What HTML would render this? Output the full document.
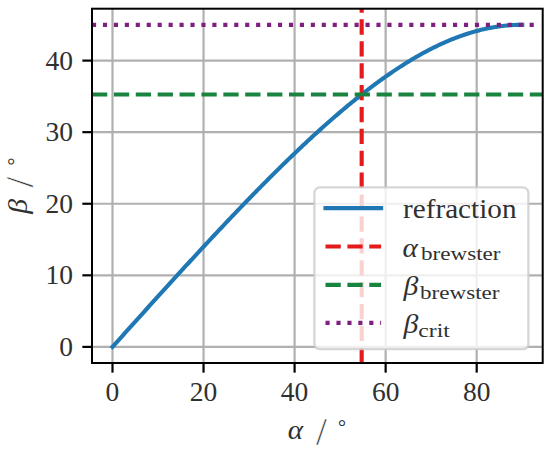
<!DOCTYPE html>
<html><head><meta charset="utf-8"><title>Refraction angle plot</title>
<style>html,body{margin:0;padding:0;background:#fff;width:550px;height:450px;overflow:hidden}svg{display:block}</style>
</head><body>
<svg width="550" height="450" viewBox="0 0 550 450">
<rect x="0" y="0" width="550" height="450" fill="#ffffff"/>
<g stroke="#b0b0b0" stroke-width="2.2" fill="none">
<line x1="112.49" y1="8.7" x2="112.49" y2="363"/>
<line x1="203.54" y1="8.7" x2="203.54" y2="363"/>
<line x1="294.59" y1="8.7" x2="294.59" y2="363"/>
<line x1="385.64" y1="8.7" x2="385.64" y2="363"/>
<line x1="476.69" y1="8.7" x2="476.69" y2="363"/>
<line x1="92" y1="346.9" x2="542.7" y2="346.9"/>
<line x1="92" y1="275.32" x2="542.7" y2="275.32"/>
<line x1="92" y1="203.75" x2="542.7" y2="203.75"/>
<line x1="92" y1="132.17" x2="542.7" y2="132.17"/>
<line x1="92" y1="60.6" x2="542.7" y2="60.6"/>
</g>
<defs><clipPath id="ax"><rect x="92.0" y="8.7" width="450.7" height="354.3"/></clipPath></defs>
<g clip-path="url(#ax)">
<polyline points="112.49,346.9 113.63,345.63 114.77,344.37 115.9,343.1 117.04,341.84 118.18,340.57 119.32,339.31 120.46,338.04 121.59,336.78 122.73,335.51 123.87,334.25 125.01,332.98 126.15,331.72 127.29,330.46 128.42,329.19 129.56,327.93 130.7,326.66 131.84,325.4 132.98,324.14 134.11,322.87 135.25,321.61 136.39,320.35 137.53,319.08 138.67,317.82 139.81,316.56 140.94,315.3 142.08,314.04 143.22,312.78 144.36,311.52 145.5,310.26 146.63,309 147.77,307.74 148.91,306.48 150.05,305.22 151.19,303.96 152.32,302.7 153.46,301.44 154.6,300.19 155.74,298.93 156.88,297.67 158.01,296.42 159.15,295.16 160.29,293.91 161.43,292.65 162.57,291.4 163.71,290.15 164.84,288.89 165.98,287.64 167.12,286.39 168.26,285.14 169.4,283.89 170.53,282.64 171.67,281.39 172.81,280.14 173.95,278.89 175.09,277.65 176.22,276.4 177.36,275.15 178.5,273.91 179.64,272.66 180.78,271.42 181.92,270.18 183.05,268.94 184.19,267.69 185.33,266.45 186.47,265.21 187.61,263.98 188.74,262.74 189.88,261.5 191.02,260.26 192.16,259.03 193.3,257.79 194.44,256.56 195.57,255.33 196.71,254.1 197.85,252.87 198.99,251.64 200.13,250.41 201.26,249.18 202.4,247.95 203.54,246.73 204.68,245.5 205.82,244.28 206.95,243.05 208.09,241.83 209.23,240.61 210.37,239.39 211.51,238.17 212.64,236.96 213.78,235.74 214.92,234.53 216.06,233.31 217.2,232.1 218.34,230.89 219.47,229.68 220.61,228.47 221.75,227.26 222.89,226.06 224.03,224.85 225.16,223.65 226.3,222.45 227.44,221.24 228.58,220.05 229.72,218.85 230.86,217.65 231.99,216.45 233.13,215.26 234.27,214.07 235.41,212.88 236.55,211.69 237.68,210.5 238.82,209.31 239.96,208.13 241.1,206.94 242.24,205.76 243.37,204.58 244.51,203.4 245.65,202.23 246.79,201.05 247.93,199.88 249.06,198.7 250.2,197.53 251.34,196.36 252.48,195.2 253.62,194.03 254.76,192.87 255.89,191.71 257.03,190.55 258.17,189.39 259.31,188.23 260.45,187.08 261.58,185.92 262.72,184.77 263.86,183.62 265,182.48 266.14,181.33 267.27,180.19 268.41,179.05 269.55,177.91 270.69,176.77 271.83,175.64 272.97,174.5 274.1,173.37 275.24,172.24 276.38,171.12 277.52,169.99 278.66,168.87 279.79,167.75 280.93,166.63 282.07,165.52 283.21,164.4 284.35,163.29 285.49,162.19 286.62,161.08 287.76,159.97 288.9,158.87 290.04,157.77 291.18,156.68 292.31,155.58 293.45,154.49 294.59,153.4 295.73,152.31 296.87,151.23 298,150.15 299.14,149.07 300.28,147.99 301.42,146.92 302.56,145.85 303.69,144.78 304.83,143.71 305.97,142.65 307.11,141.59 308.25,140.53 309.39,139.48 310.52,138.42 311.66,137.37 312.8,136.33 313.94,135.28 315.08,134.24 316.21,133.21 317.35,132.17 318.49,131.14 319.63,130.11 320.77,129.09 321.91,128.06 323.04,127.04 324.18,126.03 325.32,125.02 326.46,124.01 327.6,123 328.73,122 329.87,121 331.01,120 332.15,119.01 333.29,118.02 334.42,117.03 335.56,116.05 336.7,115.07 337.84,114.09 338.98,113.12 340.12,112.15 341.25,111.18 342.39,110.22 343.53,109.26 344.67,108.31 345.81,107.35 346.94,106.41 348.08,105.46 349.22,104.52 350.36,103.59 351.5,102.65 352.63,101.73 353.77,100.8 354.91,99.88 356.05,98.96 357.19,98.05 358.32,97.14 359.46,96.24 360.6,95.34 361.74,94.44 362.88,93.55 364.02,92.66 365.15,91.78 366.29,90.9 367.43,90.02 368.57,89.15 369.71,88.28 370.84,87.42 371.98,86.56 373.12,85.71 374.26,84.86 375.4,84.01 376.54,83.17 377.67,82.34 378.81,81.51 379.95,80.68 381.09,79.86 382.23,79.04 383.36,78.23 384.5,77.42 385.64,76.62 386.78,75.82 387.92,75.03 389.05,74.24 390.19,73.46 391.33,72.68 392.47,71.91 393.61,71.14 394.75,70.38 395.88,69.62 397.02,68.87 398.16,68.12 399.3,67.38 400.44,66.64 401.57,65.91 402.71,65.18 403.85,64.46 404.99,63.74 406.13,63.03 407.26,62.33 408.4,61.63 409.54,60.93 410.68,60.25 411.82,59.56 412.96,58.89 414.09,58.22 415.23,57.55 416.37,56.89 417.51,56.24 418.65,55.59 419.78,54.95 420.92,54.31 422.06,53.68 423.2,53.05 424.34,52.43 425.47,51.82 426.61,51.22 427.75,50.61 428.89,50.02 430.03,49.43 431.17,48.85 432.3,48.27 433.44,47.7 434.58,47.14 435.72,46.58 436.86,46.03 437.99,45.49 439.13,44.95 440.27,44.42 441.41,43.89 442.55,43.37 443.68,42.86 444.82,42.36 445.96,41.86 447.1,41.37 448.24,40.88 449.38,40.4 450.51,39.93 451.65,39.46 452.79,39.01 453.93,38.55 455.07,38.11 456.2,37.67 457.34,37.24 458.48,36.82 459.62,36.4 460.76,35.99 461.89,35.58 463.03,35.19 464.17,34.8 465.31,34.42 466.45,34.04 467.59,33.67 468.72,33.31 469.86,32.96 471,32.61 472.14,32.28 473.28,31.94 474.41,31.62 475.55,31.3 476.69,30.99 477.83,30.69 478.97,30.39 480.1,30.11 481.24,29.83 482.38,29.55 483.52,29.29 484.66,29.03 485.8,28.78 486.93,28.54 488.07,28.3 489.21,28.07 490.35,27.85 491.49,27.64 492.62,27.44 493.76,27.24 494.9,27.05 496.04,26.87 497.18,26.69 498.31,26.52 499.45,26.37 500.59,26.21 501.73,26.07 502.87,25.93 504.01,25.81 505.14,25.69 506.28,25.57 507.42,25.47 508.56,25.37 509.7,25.28 510.83,25.2 511.97,25.12 513.11,25.06 514.25,25 515.39,24.95 516.52,24.91 517.66,24.87 518.8,24.84 519.94,24.82 521.08,24.81 522.22,24.81" fill="none" stroke="#1f77b4" stroke-width="4.13" stroke-linejoin="round" stroke-linecap="square"/>
<line x1="361.67" y1="363" x2="361.67" y2="8.7" stroke="#e41a1c" stroke-width="4.13" stroke-dasharray="15.28 6.61"/>
<line x1="92" y1="94.49" x2="542.7" y2="94.49" stroke="#188440" stroke-width="4.13" stroke-dasharray="15.28 6.61"/>
<line x1="92" y1="24.81" x2="540.6" y2="24.81" stroke="#7f1f7f" stroke-width="4.13" stroke-dasharray="4.13 6.81"/>
</g>
<rect x="92.0" y="8.7" width="450.7" height="354.3" fill="none" stroke="#000" stroke-width="2.0" stroke-linejoin="miter"/>
<g stroke="#000" stroke-width="2.2">
<line x1="112.49" y1="363" x2="112.49" y2="372.64"/>
<line x1="203.54" y1="363" x2="203.54" y2="372.64"/>
<line x1="294.59" y1="363" x2="294.59" y2="372.64"/>
<line x1="385.64" y1="363" x2="385.64" y2="372.64"/>
<line x1="476.69" y1="363" x2="476.69" y2="372.64"/>
<line x1="92" y1="346.9" x2="82.36" y2="346.9"/>
<line x1="92" y1="275.32" x2="82.36" y2="275.32"/>
<line x1="92" y1="203.75" x2="82.36" y2="203.75"/>
<line x1="92" y1="132.17" x2="82.36" y2="132.17"/>
<line x1="92" y1="60.6" x2="82.36" y2="60.6"/>
</g>
<g style="font-family:&quot;Liberation Serif&quot;,serif;font-size:27.5px" fill="#303030">
<text x="73" y="356" text-anchor="end">0</text>
<text x="73" y="284.42" text-anchor="end">10</text>
<text x="73" y="212.85" text-anchor="end">20</text>
<text x="73" y="141.27" text-anchor="end">30</text>
<text x="73" y="69.7" text-anchor="end">40</text>
<text x="112.49" y="401.3" text-anchor="middle">0</text>
<text x="203.54" y="401.3" text-anchor="middle">20</text>
<text x="294.59" y="401.3" text-anchor="middle">40</text>
<text x="385.64" y="401.3" text-anchor="middle">60</text>
<text x="476.69" y="401.3" text-anchor="middle">80</text>
</g>
<g style="font-family:&quot;Liberation Serif&quot;,serif;font-size:27.5px" fill="#303030">
<text x="287.8" y="438.5" font-style="italic" textLength="15.35" lengthAdjust="spacingAndGlyphs">α</text>
<text x="316" y="444.6" style="font-size:39px" stroke="#fff" stroke-width="0.5">/</text>
<text x="338" y="433.8" style="font-size:20px">°</text>
</g>
<g style="font-family:&quot;Liberation Serif&quot;,serif;font-size:27.5px" fill="#303030" transform="translate(26.6,0) rotate(-90)">
<text x="-213.8" y="0" font-style="italic" textLength="14.86" lengthAdjust="spacingAndGlyphs">β</text>
<text x="-187.6" y="6.4" style="font-size:39px" stroke="#fff" stroke-width="0.5">/</text>
<text x="-165.4" y="-4.3" style="font-size:20px">°</text>
</g>
<rect x="314.4" y="187.4" width="214" height="161.8" rx="5.5" ry="5.5" fill="#fff" fill-opacity="0.8" stroke="#cccccc" stroke-opacity="0.8" stroke-width="2.3"/>
<line x1="325.5" y1="208.1" x2="381.1" y2="208.1" stroke="#1f77b4" stroke-width="4.13" stroke-linecap="square"/>
<line x1="325.5" y1="246.5" x2="381.1" y2="246.5" stroke="#e41a1c" stroke-width="4.13" stroke-dasharray="15.28 6.61"/>
<line x1="325.5" y1="284.9" x2="381.1" y2="284.9" stroke="#188440" stroke-width="4.13" stroke-dasharray="15.28 6.61"/>
<line x1="325.5" y1="322.9" x2="381.1" y2="322.9" stroke="#7f1f7f" stroke-width="4.13" stroke-dasharray="4.13 6.81"/>
<g style="font-family:&quot;Liberation Serif&quot;,serif;font-size:27.5px" fill="#303030">
<text x="403" y="217.9" textLength="113.5" lengthAdjust="spacingAndGlyphs">refraction</text>
<text x="402.6" y="256.5" font-style="italic" textLength="15.35" lengthAdjust="spacingAndGlyphs">α</text>
<text x="421" y="260.2" style="font-size:19px" textLength="79.5" lengthAdjust="spacingAndGlyphs">brewster</text>
<text x="403.4" y="294.6" font-style="italic" textLength="14.86" lengthAdjust="spacingAndGlyphs">β</text>
<text x="420" y="298.7" style="font-size:19px" textLength="79.5" lengthAdjust="spacingAndGlyphs">brewster</text>
<text x="403.6" y="333" font-style="italic" textLength="14.86" lengthAdjust="spacingAndGlyphs">β</text>
<text x="418.3" y="336.6" style="font-size:19px" textLength="31.5" lengthAdjust="spacingAndGlyphs">crit</text>
</g>
</svg>
</body></html>
